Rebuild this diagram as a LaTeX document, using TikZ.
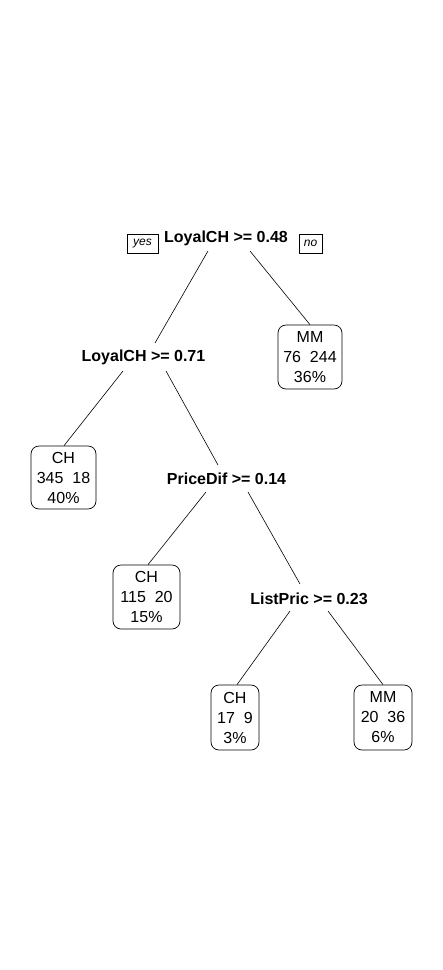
\documentclass[tikz,border=0pt]{standalone}
\usepackage{fontspec}
\setmainfont{Liberation Sans}
\begin{document}
\begin{tikzpicture}[x=1pt,y=-1pt,
  split/.style={inner sep=0pt, font=\fontsize{16}{19}\selectfont\bfseries},
  leaf/.style={draw, line width=0.7pt, rounded corners=8pt, inner sep=0pt, align=center,
    font=\fontsize{16}{20}\selectfont},
  tag/.style={draw, line width=0.6pt, inner sep=0pt, minimum width=31pt, minimum height=19pt,
    font=\fontsize{12}{14}\selectfont\itshape},
  edge/.style={line width=0.6pt}]
\useasboundingbox (0,0) rectangle (443,970);
% split nodes
\node[split] (root) at (226,238) {LoyalCH >= 0.48};
\node[tag] (yes) at (142.5,243.5) {yes};
\node[tag, minimum width=23pt] (no) at (310.5,243.5) {no};
\node[split] (l071) at (143.5,357) {LoyalCH >= 0.71};
\node[split] (pd) at (226.5,479) {PriceDif >= 0.14};
\node[split] (lp) at (309,599) {ListPric >= 0.23};
% leaves
\node[leaf, minimum width=64pt, minimum height=64pt] (mm1) at (310,357) {MM\\76\ \ 244\\36\%};
\node[leaf, minimum width=65pt, minimum height=63pt] (ch1) at (63.5,477.5) {CH\\345\ \ 18\\40\%};
\node[leaf, minimum width=67pt, minimum height=64pt] (ch2) at (146.5,597) {CH\\115\ \ 20\\15\%};
\node[leaf, minimum width=48pt, minimum height=65pt] (ch3) at (235,717.5) {CH\\17\ \ 9\\3\%};
\node[leaf, minimum width=58pt, minimum height=65pt] (mm3) at (383,717.5) {MM\\20\ \ 36\\6\%};
% connectors
\draw[edge] ([shift={(-18,13)}]root.center) -- ([shift={(11.5,-14)}]l071.center);
\draw[edge] ([shift={(24,13)}]root.center) -- (mm1.north);
\draw[edge] ([shift={(-20.5,14)}]l071.center) -- ([xshift=0.5pt]ch1.north);
\draw[edge] ([shift={(22.5,14)}]l071.center) -- ([shift={(-8.5,-14)}]pd.center);
\draw[edge] ([shift={(-20.5,13)}]pd.center) -- ([xshift=1.5pt]ch2.north);
\draw[edge] ([shift={(21.5,13)}]pd.center) -- ([shift={(-9,-15)}]lp.center);
\draw[edge] ([shift={(-19,12)}]lp.center) -- ([xshift=2pt]ch3.north);
\draw[edge] ([shift={(19,12)}]lp.center) -- (mm3.north);
\end{tikzpicture}
\end{document}
